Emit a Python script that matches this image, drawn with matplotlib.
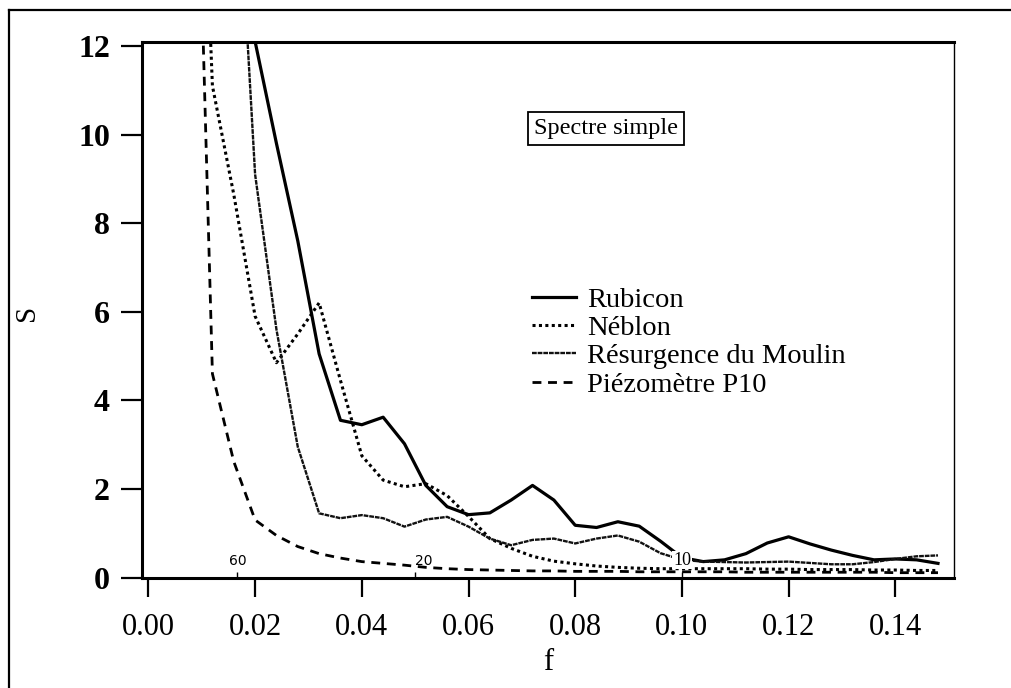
import numpy as np
import matplotlib.pyplot as plt
from matplotlib.lines import Line2D

# frequency grid of the spectra (k / 250)
freq = np.arange(2, 38) * 0.004

nan = np.nan
rubicon = [nan, nan, 22.0, 12.1, 9.8, 7.6, 5.05, 3.55, 3.45, 3.62, 3.02, 2.08,
           1.6, 1.42, 1.46, 1.75, 2.08, 1.75, 1.18, 1.13, 1.26, 1.16, 0.82, 0.45,
           0.36, 0.40, 0.54, 0.78, 0.92, 0.76, 0.62, 0.50, 0.40, 0.42, 0.40, 0.32]
neblon = [23.0, 11.1, 8.65, 5.9, 4.85, 5.5, 6.2, 4.45, 2.75, 2.2, 2.05, 2.12,
          1.85, 1.38, 0.88, 0.66, 0.48, 0.37, 0.31, 0.26, 0.23, 0.21, 0.20, 0.20,
          0.20, 0.20, 0.20, 0.19, 0.19, 0.18, 0.18, 0.18, 0.17, 0.17, 0.16, 0.16]
moulin = [nan, nan, 17.6, 9.1, 5.6, 2.95, 1.45, 1.34, 1.41, 1.34, 1.15, 1.31,
          1.37, 1.15, 0.88, 0.73, 0.85, 0.88, 0.77, 0.88, 0.95, 0.81, 0.55, 0.40,
          0.36, 0.35, 0.34, 0.35, 0.36, 0.33, 0.30, 0.30, 0.35, 0.42, 0.48, 0.50]
piezo = [22.0, 4.6, 2.62, 1.30, 0.95, 0.70, 0.54, 0.44, 0.36, 0.32, 0.28, 0.23,
         0.20, 0.18, 0.17, 0.16, 0.15, 0.15, 0.14, 0.14, 0.14, 0.13, 0.13, 0.13,
         0.13, 0.13, 0.12, 0.12, 0.12, 0.12, 0.12, 0.12, 0.12, 0.11, 0.11, 0.11]

labels = ["Rubicon", "Néblon", "Résurgence du Moulin", "Piézomètre P10"]
periods = [60, 20, 10]
xticks = [0.00, 0.02, 0.04, 0.06, 0.08, 0.10, 0.12, 0.14]
yticks = [0, 2, 4, 6, 8, 10, 12]

serif = "Liberation Serif"

fig = plt.figure(figsize=(10.12, 6.88), dpi=100)
ax = fig.add_axes([142 / 1012, 1 - 578 / 688, 812 / 1012, 536 / 688])

ax.plot(freq, rubicon, color="black", lw=2.3, label=labels[0])
ax.plot(freq, neblon, color="black", lw=2.2, ls=(0, (1.0, 1.1)), label=labels[1])
ax.plot(freq, moulin, color="#111111", lw=1.7, ls=(0, (2.0, 0.4)), label=labels[2])
ax.plot(freq, piezo, color="black", lw=2.0, ls=(0, (3.2, 2.4)), label=labels[3])

ax.set_xlim(-0.0012, 0.151)
ax.set_ylim(-0.01, 12.09)
ax.set_xticks(xticks)
ax.set_xticklabels([f"{v:.2f}" for v in xticks], fontsize=22, family=serif)
ax.set_yticks(yticks)
ax.set_yticklabels([str(v) for v in yticks], fontsize=23, family=serif,
                   fontweight="bold")
ax.tick_params(axis="y", direction="out", length=15, width=1.6, pad=8)
ax.tick_params(axis="x", direction="out", length=14, width=1.6, pad=11)

for side in ["left", "bottom", "top"]:
    ax.spines[side].set_linewidth(2.2)
ax.spines["right"].set_linewidth(1.0)
ax.spines["right"].set_linestyle((0, (1, 1)))

ax.set_ylabel("S", fontsize=21, family=serif)
ax.yaxis.set_label_coords(-0.125, 0.494)
ax.set_xlabel("f", fontsize=22, family=serif)
ax.xaxis.set_label_coords(0.5, -0.13)

# period markers (days) on the frequency axis
for p in periods:
    ax.vlines(1 / p, 0, 0.12, color="black", lw=1.0)
ax.text(1 / periods[0], 0.22, str(periods[0]), fontsize=10, ha="center",
        va="bottom", family="DejaVu Sans")
ax.text(1 / periods[1], 0.22, str(periods[1]), fontsize=10, ha="left",
        va="bottom", family="DejaVu Sans")
ax.text(1 / periods[2], 0.2, str(periods[2]), fontsize=13, ha="center",
        va="bottom", family=serif,
        bbox=dict(facecolor="white", edgecolor="none", pad=0.5))

ax.text(0.571, 0.839, "Spectre simple", transform=ax.transAxes, fontsize=17.5,
        family=serif, ha="center", va="center",
        bbox=dict(boxstyle="square,pad=0.25", facecolor="white",
                  edgecolor="black", lw=1.3))

ax.legend(loc="upper left", bbox_to_anchor=(0.48, 0.543), frameon=False,
          prop={"family": serif, "size": 20.5}, handlelength=1.55,
          handletextpad=0.4, labelspacing=0.08, borderpad=0,
          borderaxespad=0)

# page frame
fig.add_artist(Line2D([9 / 1012, 9 / 1012], [0, 1 - 10 / 688],
                      transform=fig.transFigure, color="black", lw=1.6))
fig.add_artist(Line2D([9 / 1012, 1], [1 - 10 / 688, 1 - 10 / 688],
                      transform=fig.transFigure, color="black", lw=1.6))

fig.savefig("out.png", dpi=100)
